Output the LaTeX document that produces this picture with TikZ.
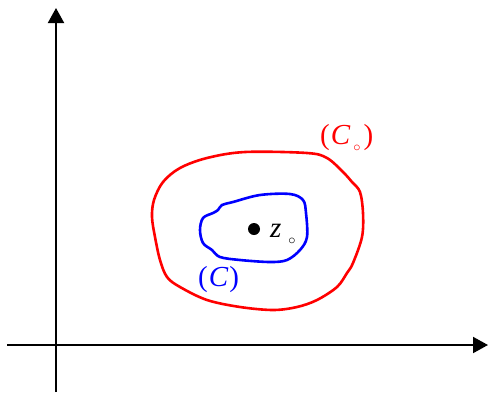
\documentclass[tikz,border=0pt]{standalone}
\usepackage{fontspec}
\setmainfont{Liberation Serif}
\usetikzlibrary{arrows.meta}
\begin{document}
\begin{tikzpicture}[x=1pt,y=-1pt,
  axis/.style={line width=2pt,-{Triangle[length=15pt,width=16pt]}},
  curve/.style={line width=2.6pt,line join=round},
  lbl/.style={inner sep=0pt,font=\fontsize{29}{29}\selectfont}]
\useasboundingbox (0,0) rectangle (488,392);
\coordinate (xs) at (7,345);
\coordinate (xe) at (488,345);
\coordinate (ys) at (56,392);
\coordinate (ye) at (56,8);
\draw[axis] (xs) -- (xe);
\draw[axis] (ys) -- (ye);
% outer curve (C0)
\draw[curve,red] plot[smooth cycle,tension=0.55] coordinates {
 (154,200) (163,182) (180,168) (207,158) (245,152) (307,153) (327,158)
 (343,172) (352,182) (360,192) (363,213) (362,237) (353,263) (347,273)
 (337,287) (317,300) (297,307) (273,310) (240,307) (207,300) (180,287)
 (167,277) (160,260) (155,237) (152,217)};
% inner curve (C)
\draw[curve,blue] plot[smooth cycle,tension=0.55] coordinates {
 (222,205) (233,202) (260,195) (290,194) (303,200) (306,213) (307,237)
 (300,250) (287,260) (270,262) (240,260) (220,257) (212,250) (203,243)
 (200,230) (203,218) (213,213) (218,210)};
% point z0
\fill (254,229) circle (6pt);
\node[lbl,anchor=base west] (z) at (270,237) {\textit{z}\hspace{7pt}\raisebox{-7pt}{$\scriptscriptstyle\circ$}};
% labels
\node[lbl,text=red,anchor=base west] (c0) at (320,144) {(\hspace{1pt}\textit{C}\hspace{3pt}\raisebox{-7pt}{$\scriptscriptstyle\circ$}\hspace{3pt})};
\node[lbl,text=blue,anchor=base west] (c) at (198,286) {(\hspace{1pt}\textit{C}\hspace{1pt})};
\end{tikzpicture}
\end{document}
